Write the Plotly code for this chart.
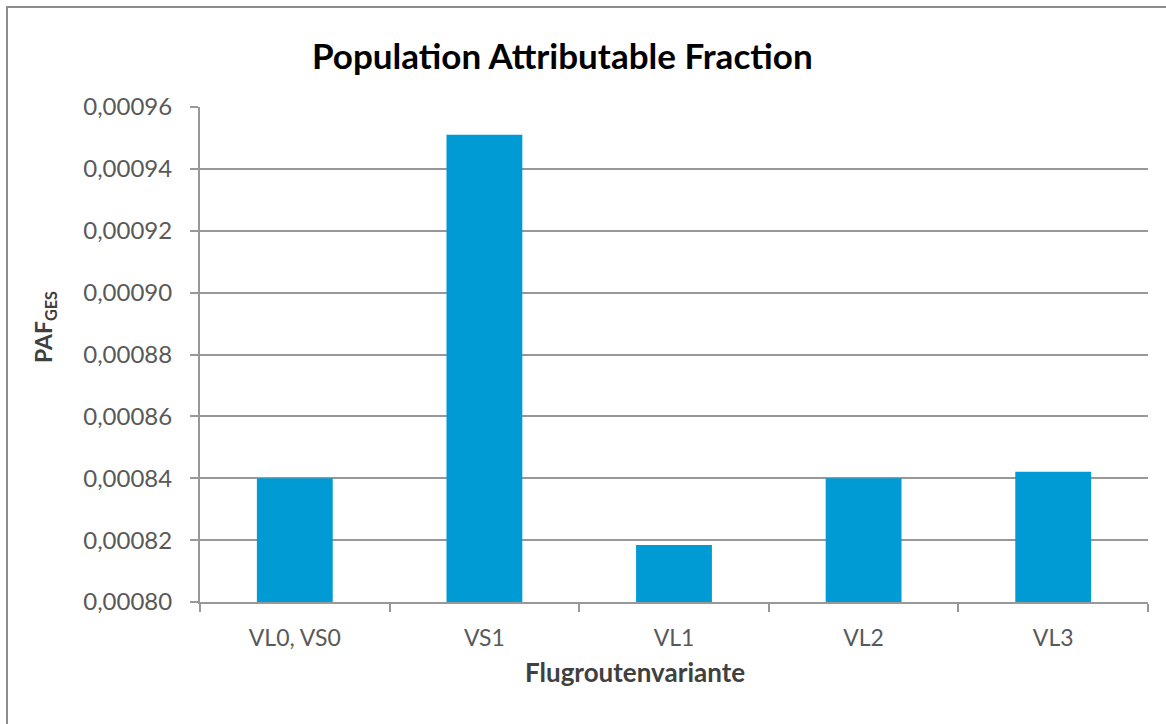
import plotly.graph_objects as go

# data
variants = ["VL0, VS0", "VS1", "VL1", "VL2", "VL3"]
paf_ges = [0.000840, 0.000951, 0.0008184, 0.000840, 0.0008421]
y_ticks = [0.00080, 0.00082, 0.00084, 0.00086, 0.00088, 0.00090, 0.00092, 0.00094, 0.00096]

W, H = 1166, 724
L, R, T, B = 200, 18, 107, 122
pw, ph = W - L - R, H - T - B

def px(x):
    return (x - L) / pw

def py(y):
    return (H - B - y) / ph

FONT = "Lato, 'Open Sans', sans-serif"
GRID = "#989898"

fig = go.Figure()
fig.add_trace(
    go.Bar(
        x=variants,
        y=paf_ges,
        base=0,
        marker=dict(color="#009BD5", line=dict(width=0)),
        hoverinfo="x+y",
    )
)

fig.update_layout(
    width=W,
    height=H,
    margin=dict(l=L, r=R, t=T, b=B, pad=0),
    paper_bgcolor="white",
    plot_bgcolor="white",
    bargap=0.6,
    showlegend=False,
    separators=", ",
    font=dict(family=FONT, color="#595959"),
)

fig.update_xaxes(
    type="category",
    tickson="boundaries",
    ticks="outside",
    ticklen=8,
    tickwidth=2,
    tickcolor=GRID,
    showline=True,
    linecolor=GRID,
    linewidth=2,
    showgrid=False,
    ticklabelstandoff=14,
    tickfont=dict(size=23, color="#595959"),
)
fig.update_yaxes(
    range=[y_ticks[0], y_ticks[-1]],
    tickvals=y_ticks,
    tickformat=".5f",
    ticks="outside",
    ticklen=8,
    tickwidth=2,
    tickcolor=GRID,
    showline=True,
    linecolor=GRID,
    linewidth=2,
    showgrid=True,
    gridcolor=GRID,
    gridwidth=2,
    zeroline=False,
    ticklabelstandoff=13,
    tickfont=dict(size=24, color="#595959"),
)

# titles placed as annotations to match the reference positions
fig.add_annotation(
    text="<b>Population Attributable Fraction</b>",
    xref="paper", yref="paper", x=px(562), y=py(55),
    showarrow=False, xanchor="center", yanchor="middle",
    font=dict(size=35, color="#000000", family=FONT),
)
fig.add_annotation(
    text="<b>Flugroutenvariante</b>",
    xref="paper", yref="paper", x=px(635), y=py(672),
    showarrow=False, xanchor="center", yanchor="middle",
    font=dict(size=26, color="#404040", family=FONT),
)
fig.add_annotation(
    text="<b>PAF<sub>GES</sub></b>",
    xref="paper", yref="paper", x=px(44), y=py(327),
    showarrow=False, xanchor="center", yanchor="middle", textangle=-90,
    font=dict(size=23, color="#404040", family=FONT),
)

# chart frame (left and top edges visible; the rest falls outside the crop)
fig.add_shape(
    type="rect", xref="paper", yref="paper",
    x0=px(7), x1=px(W + 20), y0=py(H + 20), y1=py(7),
    line=dict(color="#8c8c8c", width=2), fillcolor="rgba(0,0,0,0)",
    layer="below",
)

# drop the default page margin so the figure sits at the top-left corner
fig.write_html(
    "out.html",
    config={"displayModeBar": False},
    post_script="document.body.style.margin='0';",
)
